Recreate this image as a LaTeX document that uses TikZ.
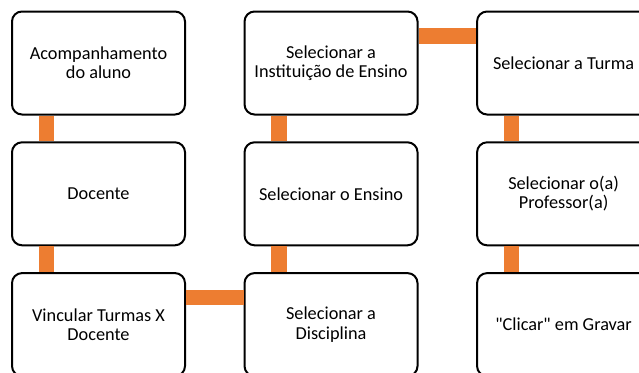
\documentclass[tikz,border=0pt]{standalone}
\usepackage{fontspec}
\setmainfont{Carlito}
\usepackage{tikz}
\usetikzlibrary{positioning}
\definecolor{ligacao}{HTML}{ED7D31}

\begin{document}
\begin{tikzpicture}[x=0.75pt, y=-0.75pt, on grid, node distance=98.1pt and 174.4pt,
    etapa/.style={draw=black, line width=1.5pt, rounded corners=7.5pt, fill=white,
      minimum width=129.75pt, minimum height=77.25pt, align=center,
      font=\fontsize{13.7}{14.3}\selectfont},
    ligacao/.style={draw=ligacao, line width=11.5pt}]
      \useasboundingbox (0,0) rectangle (639,372);
      \clip (0,0) rectangle (639,372);
      \node[etapa] (aluno)       at (98.5,63)          {Acompanhamento\\do aluno};
      \node[etapa] (docente)     [below=of aluno]      {Docente};
      \node[etapa] (vincular)    [below=of docente]    {Vincular Turmas X\\Docente};
      \node[etapa] (disciplina)  [right=of vincular]   {Selecionar a\\Disciplina};
      \node[etapa] (ensino)      [above=of disciplina] {Selecionar o Ensino};
      \node[etapa] (instituicao) [above=of ensino]     {Selecionar a\\Instituição de Ensino};
      \node[etapa] (turma)       [right=of instituicao] {Selecionar a Turma};
      \node[etapa] (professor)   [below=of turma]      {Selecionar o(a)\\Professor(a)};
      \node[etapa] (gravar)      [below=of professor]  {\textquotedbl Clicar\textquotedbl{} em Gravar};
      \path[ligacao]
        ([xshift=-39pt]aluno.south)       edge ([xshift=-39pt]docente.north)
        ([xshift=-39pt]docente.south)     edge ([xshift=-39pt]vincular.north)
        ([yshift=20.25pt]vincular.east)   edge ([yshift=20.25pt]disciplina.west)
        ([xshift=-39pt]disciplina.north)  edge ([xshift=-39pt]ensino.south)
        ([xshift=-39pt]ensino.north)      edge ([xshift=-39pt]instituicao.south)
        ([yshift=20.25pt]instituicao.east) edge ([yshift=20.25pt]turma.west)
        ([xshift=-39pt]turma.south)       edge ([xshift=-39pt]professor.north)
        ([xshift=-39pt]professor.south)   edge ([xshift=-39pt]gravar.north);
    \end{tikzpicture}
\end{document}
